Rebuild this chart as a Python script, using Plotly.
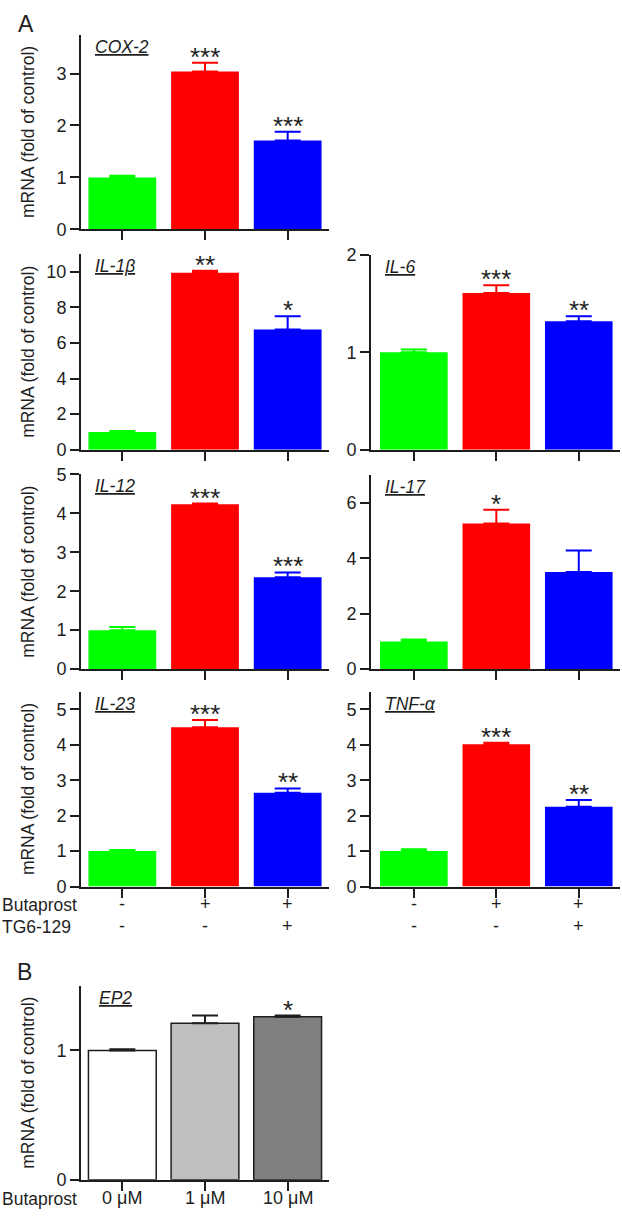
import plotly.graph_objects as go

W, H = 622, 1229

# panel A: fold of control, three groups per gene
genes = ["COX-2", "IL-1β", "IL-6", "IL-12", "IL-17", "IL-23", "TNF-α"]
control = [1.00, 1.00, 1.00, 1.00, 1.00, 1.00, 1.00]
control_err = [0.03, 0.05, 0.03, 0.08, 0.07, 0.03, 0.05]
butaprost = [3.04, 9.95, 1.61, 4.23, 5.26, 4.50, 4.02]
butaprost_err = [0.17, 0.10, 0.08, 0.02, 0.50, 0.20, 0.04]
butaprost_tg6 = [1.71, 6.76, 1.32, 2.36, 3.51, 2.65, 2.25]
butaprost_tg6_err = [0.17, 0.74, 0.05, 0.12, 0.77, 0.12, 0.19]
sig_butaprost = ["***", "**", "***", "***", "*", "***", "***"]
sig_tg6 = ["***", "*", "**", "***", "", "**", "**"]
y_max = [3.75, 11, 2, 5, 7, 5.5, 5.5]
y_dtick = [1, 2, 1, 1, 2, 1, 1]

row_butaprost = ["-", "+", "+"]
row_tg6 = ["-", "-", "+"]

# panel B: EP2 dose response
ep2_doses = ["0 μM", "1 μM", "10 μM"]
ep2_values = [1.00, 1.21, 1.26]
ep2_err = [0.01, 0.06, 0.01]
ep2_sig = ["", "", "*"]

FONT = "Arial, Liberation Sans, sans-serif"
INK = "#1e1e1e"
group_colors = ["#00ff00", "#ff0000", "#0000ff"]

# pixel boxes (left, right, top, bottom) for each panel
left_col = (81, 329)
right_col = (371, 620)
boxes = [
    left_col + (25, 223),
    left_col + (248, 447),
    right_col + (249, 447),
    left_col + (472, 670),
    right_col + (473, 670),
    left_col + (693, 891),
    right_col + (693, 891),
]
ep2_box = left_col + (992, 1189)

fig = go.Figure()
annotations = []


def txt(size=18, **kw):
    return dict(family=FONT, size=size, color=INK, **kw)


def add_axes(n, box, ymax, dtick, xlo):
    x0, x1, top, bottom = box
    sfx = "" if n == 1 else str(n)
    common = dict(showline=True, linecolor=INK, linewidth=2, ticks="outside",
                  ticklen=9, tickwidth=2, tickcolor=INK, showgrid=False,
                  zeroline=False, tickfont=txt(18))
    fig.layout["xaxis" + sfx] = dict(common, domain=[x0 / W, x1 / W], range=[xlo, 2.5],
                                     anchor="y" + sfx, tickvals=[0, 1, 2],
                                     showticklabels=False, fixedrange=True)
    fig.layout["yaxis" + sfx] = dict(common, domain=[1 - bottom / H, 1 - top / H],
                                     range=[0, ymax], dtick=dtick, anchor="x" + sfx,
                                     fixedrange=True)
    return "x" + sfx, "y" + sfx


def star(xref, yref, x, y, text):
    if text:
        annotations.append(dict(x=x, y=y, xref=xref, yref=yref, text=text,
                                showarrow=False, yanchor="bottom", yshift=-11,
                                font=txt(26)))


def gene_title(xref, yref, text, shift=12):
    annotations.append(dict(x=0, y=1, xref=xref + " domain", yref=yref + " domain",
                            text=text, showarrow=False, xanchor="left", yanchor="middle",
                            xshift=shift, yshift=-12,
                            font=txt(17.5, style="italic", lineposition="under")))


def y_title(top, bottom):
    annotations.append(dict(x=28 / W, y=1 - (top + bottom) / 2 / H, xref="paper",
                            yref="paper", text="mRNA (fold of control)", textangle=-90,
                            xanchor="center", yanchor="middle", showarrow=False,
                            font=txt(17.5)))


for i, gene in enumerate(genes):
    xlo = -0.5 if boxes[i][0] == 81 else -0.52
    xr, yr = add_axes(i + 1, boxes[i], y_max[i], y_dtick[i], xlo)
    vals = [control[i], butaprost[i], butaprost_tg6[i]]
    errs = [control_err[i], butaprost_err[i], butaprost_tg6_err[i]]
    for k in range(3):
        fig.add_trace(go.Bar(
            x=[k], y=[vals[k]], xaxis=xr, yaxis=yr, width=0.82,
            marker=dict(color=group_colors[k], line=dict(width=0)),
            error_y=dict(type="data", array=[errs[k]], arrayminus=[0], symmetric=False,
                         color=group_colors[k], thickness=2, width=13),
            showlegend=False, hoverinfo="skip"))
    star(xr, yr, 1, butaprost[i] + butaprost_err[i], sig_butaprost[i])
    star(xr, yr, 2, butaprost_tg6[i] + butaprost_tg6_err[i], sig_tg6[i])
    gene_title(xr, yr, gene)
    if boxes[i][0] == 81:
        y_title(boxes[i][2], boxes[i][3])

# treatment rows under the bottom row of panel A
for xr in ["x6", "x7"]:
    for k in range(3):
        annotations.append(dict(x=k, y=1 - 921 / H, xref=xr, yref="paper",
                                text=row_butaprost[k], showarrow=False, font=txt()))
        annotations.append(dict(x=k, y=1 - 943 / H, xref=xr, yref="paper",
                                text=row_tg6[k], showarrow=False, font=txt()))
for label, py in [("Butaprost", 922), ("TG6-129", 944)]:
    annotations.append(dict(x=0, y=1 - py / H, xref="paper", yref="paper", text=label,
                            xanchor="left", showarrow=False, font=txt(17.5)))

# panel B
xr, yr = add_axes(8, ep2_box, 1.5, 1, -0.5)
ep2_colors = ["#ffffff", "#c0c0c0", "#808080"]
for k in range(3):
    fig.add_trace(go.Bar(
        x=[k], y=[ep2_values[k]], xaxis=xr, yaxis=yr, width=0.82,
        marker=dict(color=ep2_colors[k], line=dict(width=1.5, color=INK)),
        error_y=dict(type="data", array=[ep2_err[k]], arrayminus=[0], symmetric=False,
                     color=INK, thickness=2, width=13),
        showlegend=False, hoverinfo="skip"))
    star(xr, yr, k, ep2_values[k] + ep2_err[k], ep2_sig[k])
    annotations.append(dict(x=k, y=1 - 1220 / H, xref=xr, yref="paper", text=ep2_doses[k],
                            showarrow=False, font=txt()))
gene_title(xr, yr, "EP2", shift=16)
y_title(992, 1189)
annotations.append(dict(x=0, y=1 - 1221 / H, xref="paper", yref="paper", text="Butaprost",
                        xanchor="left", showarrow=False, font=txt(17.5)))

# panel letters
for letter, px_, py in [("A", 26, 14), ("B", 24, 978)]:
    annotations.append(dict(x=px_ / W, y=1 - py / H, xref="paper", yref="paper",
                            text=letter, xanchor="center", yanchor="middle",
                            showarrow=False, font=txt(23)))

fig.update_layout(
    width=W, height=H, autosize=False,
    margin=dict(l=0, r=0, t=0, b=0),
    barmode="overlay",
    plot_bgcolor="white", paper_bgcolor="white",
    annotations=annotations,
)

fig.write_html("out.html", config={"displayModeBar": False},
               post_script="document.body.style.margin='0px';document.body.style.overflow='hidden';")
